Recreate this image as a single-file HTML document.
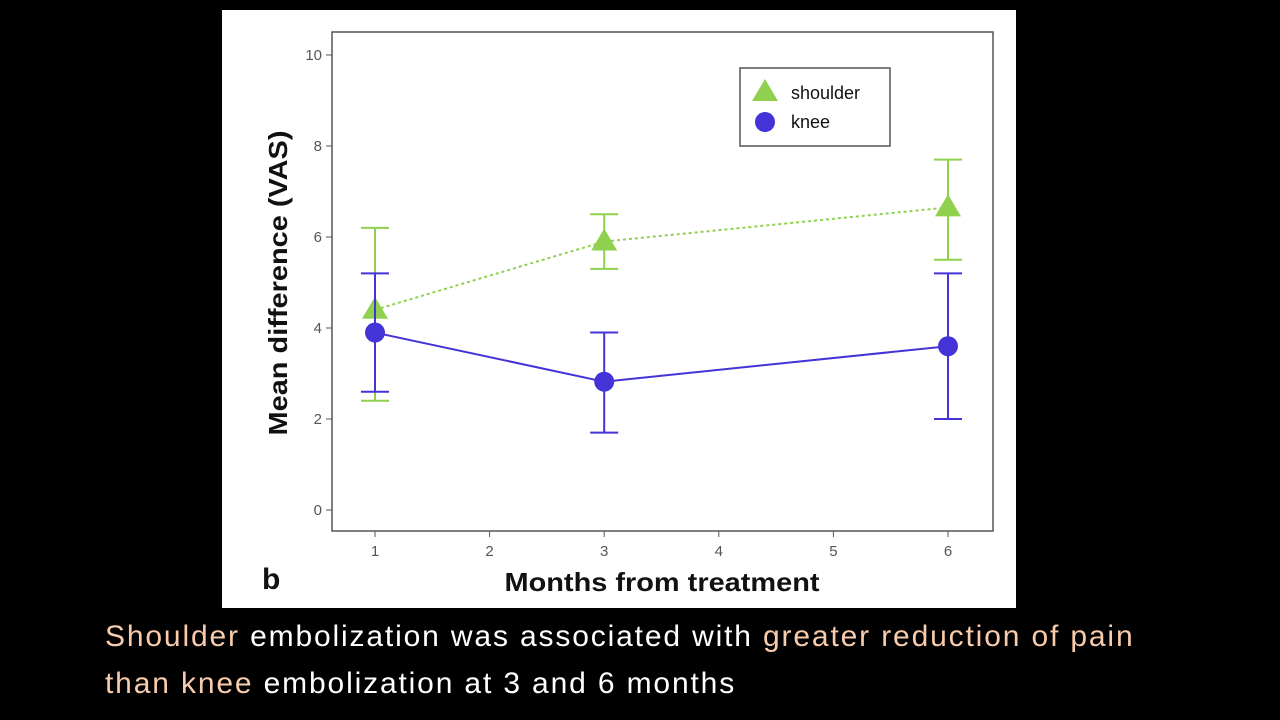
<!DOCTYPE html>
<html><head><meta charset="utf-8"><style>
body{margin:0;background:#000;width:1280px;height:720px;overflow:hidden;font-family:"Liberation Sans",sans-serif}
#panel{position:absolute;left:222px;top:10px;width:794px;height:598px;background:#fff}
.cap{position:absolute;left:105px;color:#fff;font-size:30px;letter-spacing:1.85px;font-family:"Liberation Sans",sans-serif;white-space:nowrap}
.hl{color:#f8cbad}
</style></head><body>
<div id="panel"></div>
<svg id="chart" width="1280" height="720" style="position:absolute;left:0;top:0"></svg>
<div class="cap" style="top:620px"><span class="hl">Shoulder</span> embolization was associated with <span class="hl">greater reduction of pain</span></div>
<div class="cap" style="top:667px"><span class="hl">than knee</span> embolization at 3 and 6 months</div>
<script>
const months=[1,3,6];
const shoulderMean=[4.4,5.9,6.65];
const shoulderLo=[2.4,5.3,5.5];
const shoulderHi=[6.2,6.5,7.7];
const kneeMean=[3.9,2.82,3.6];
const kneeLo=[2.6,1.7,2.0];
const kneeHi=[5.2,3.9,5.2];
const xTicks=[1,2,3,4,5,6];
const yTicks=[0,2,4,6,8,10];
const svg=document.getElementById('chart');
const NS='http://www.w3.org/2000/svg';
const X=v=>375+(v-1)*114.6;
const Y=v=>510-v*45.5;
function mk(t,a,p){const e=document.createElementNS(NS,t);for(const k in a)e.setAttribute(k,a[k]);(p||svg).appendChild(e);return e;}
let f=mk('rect',{x:332,y:32,width:661,height:499,fill:'none',stroke:'#555','stroke-width':1.5});


yTicks.forEach(v=>{
 mk('line',{x1:326,x2:332,y1:Y(v),y2:Y(v),stroke:'#555'});
 let t=mk('text',{x:322,y:Y(v)+5,'text-anchor':'end','font-size':15,fill:'#555'});t.textContent=v;
 
 
});
xTicks.forEach(v=>{
 mk('line',{x1:X(v),x2:X(v),y1:531,y2:537,stroke:'#555'});
 let t=mk('text',{x:X(v),y:556,'text-anchor':'middle','font-size':15,fill:'#555'});t.textContent=v;
 
 
});
let yt=mk('text',{x:0,y:0,transform:'translate(287,283) rotate(-90)','text-anchor':'middle','font-size':26,'font-weight':'bold',fill:'#111',textLength:305,lengthAdjust:'spacingAndGlyphs'});yt.textContent='Mean difference (VAS)';


let xt=mk('text',{x:662,y:591,'text-anchor':'middle','font-size':26,'font-weight':'bold',fill:'#111',textLength:315,lengthAdjust:'spacingAndGlyphs'});xt.textContent='Months from treatment';


let b=mk('text',{x:262,y:589,'font-size':30,'font-weight':'bold',fill:'#111'});b.textContent='b';


function series(mean,lo,hi,col,dash,shape,name){
 let g=mk('g',{});
 
 
 mk('polyline',{points:months.map((m,i)=>X(m)+','+Y(mean[i])).join(' '),fill:'none',stroke:col,'stroke-width':2,'stroke-dasharray':dash},g);
 months.forEach((m,i)=>{
  const x=X(m);
  mk('line',{x1:x,x2:x,y1:Y(lo[i]),y2:Y(hi[i]),stroke:col,'stroke-width':2},g);
  mk('line',{x1:x-14,x2:x+14,y1:Y(lo[i]),y2:Y(lo[i]),stroke:col,'stroke-width':2},g);
  mk('line',{x1:x-14,x2:x+14,y1:Y(hi[i]),y2:Y(hi[i]),stroke:col,'stroke-width':2},g);
  const y=Y(mean[i]);
  let p;
  if(shape==='tri')p=mk('polygon',{points:`${x},${y-13} ${x-13},${y+9} ${x+13},${y+9}`,fill:col},g);
  else p=mk('circle',{cx:x,cy:y,r:10,fill:col},g);
  
  
 });
}
series(shoulderMean,shoulderLo,shoulderHi,'#8fd14f','3,3','tri','shoulder');
series(kneeMean,kneeLo,kneeHi,'#4433d6','','circ','knee');
let lg=mk('g',{});


mk('rect',{x:740,y:68,width:150,height:78,fill:'#fff',stroke:'#555','stroke-width':1.5},lg);
mk('polygon',{points:'765,79 752,101 778,101',fill:'#8fd14f'},lg);
mk('circle',{cx:765,cy:122,r:10,fill:'#4433d6'},lg);
let l1=mk('text',{x:791,y:99,'font-size':18,fill:'#111'},lg);l1.textContent='shoulder';


let l2=mk('text',{x:791,y:128,'font-size':18,fill:'#111'},lg);l2.textContent='knee';


</script>
</body></html>
